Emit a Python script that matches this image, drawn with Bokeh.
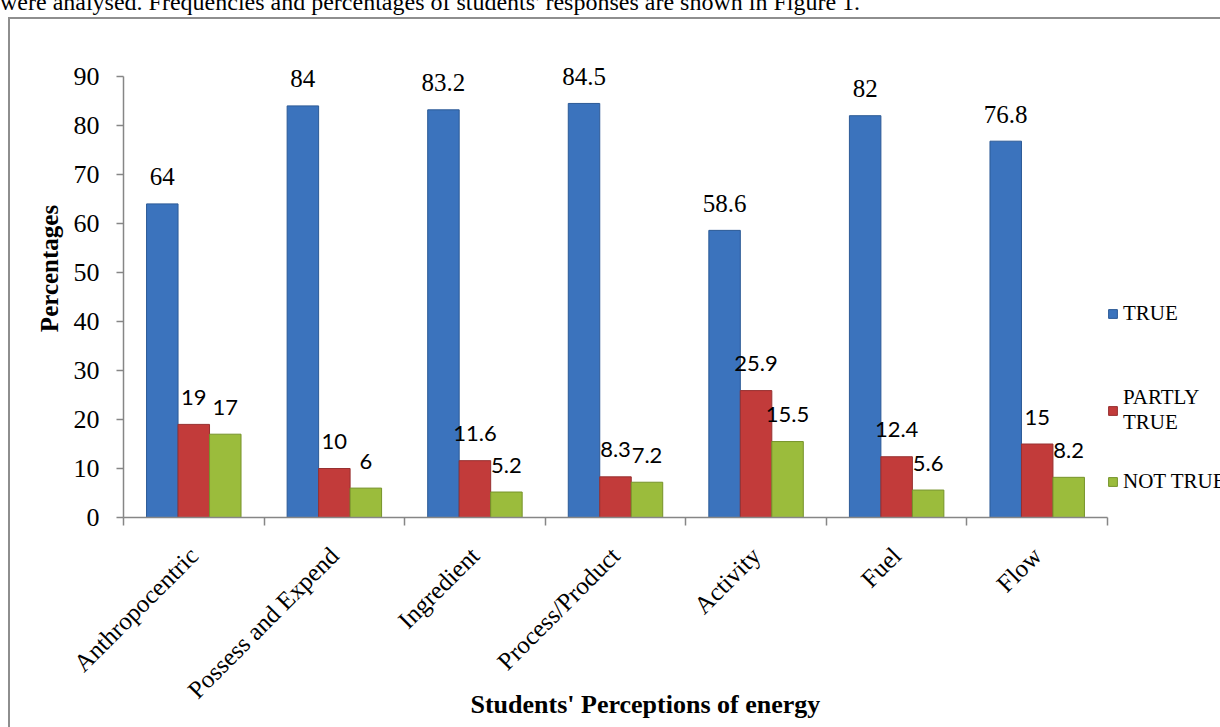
import math
from bokeh.plotting import figure
from bokeh.models import (FixedTicker, Legend, LegendItem, Title, ColumnDataSource,
                          Range1d, Div, Spacer)
from bokeh.layouts import column, row
from bokeh.core.properties import value
from bokeh.embed import file_html
from bokeh.resources import INLINE

categories = ["Anthropocentric", "Possess and Expend", "Ingredient", "Process/Product",
              "Activity", "Fuel", "Flow"]
true_vals = [64, 84, 83.2, 84.5, 58.6, 82, 76.8]
partly_vals = [19, 10, 11.6, 8.3, 25.9, 12.4, 15]
not_vals = [17, 6, 5.2, 7.2, 15.5, 5.6, 8.2]
series_names = ["TRUE", "PARTLY\nTRUE", "NOT TRUE"]
y_ticks = [0, 10, 20, 30, 40, 50, 60, 70, 80, 90]
y_max = 90
top_text = "were analysed. Frequencies and percentages of students' responses are shown in Figure 1."

SERIF = "Liberation Serif"
SANS = "Lato"
GRAY = "#868686"
BORDER = "#8e8e8e"

# geometry (pixels)
W, H = 1210, 708
left_b, bottom_b = 113, 210
frame_w, frame_h = W - left_b, H - bottom_b
px_per_cat = 984 / len(categories)
px_per_unit = 441 / y_max

p = figure(frame_width=frame_w, frame_height=frame_h, output_backend="svg",
           toolbar_location=None,
           x_range=Range1d(0, frame_w / px_per_cat), y_range=Range1d(0, frame_h / px_per_unit),
           min_border_left=left_b, min_border_right=0, min_border_top=0,
           min_border_bottom=bottom_b, margin=0)
p.xgrid.visible = False
p.ygrid.visible = False
p.outline_line_color = None
p.background_fill_color = "white"
p.border_fill_color = "white"

bw = 0.224
centers = [i + 0.5 for i in range(len(categories))]
colors = ["#3B73BD", "#C23B3A", "#9BBC3C"]
edges = ["#2C5A96", "#973030", "#76932A"]
label_fonts = [SERIF, SANS, SANS]
label_sizes = ["25px", "22px", "22px"]
renderers = []
for k, vals in enumerate([true_vals, partly_vals, not_vals]):
    xs = [c + (k - 1) * bw for c in centers]
    src = ColumnDataSource(dict(x=xs, top=vals, lab=[f"{v:g}" for v in vals]))
    r = p.vbar(x="x", top="top", width=bw, bottom=0, source=src,
               fill_color=colors[k], line_color=edges[k], line_width=1)
    renderers.append(r)
    p.text(x="x", y="top", text="lab", source=src, text_align="center",
           text_baseline="middle", y_offset=-27, text_font=value(label_fonts[k]),
           text_font_size=label_sizes[k], text_color="black")

# y axis
ya = p.yaxis[0]
ya.bounds = (0, y_max)
ya.ticker = FixedTicker(ticks=y_ticks)
ya.axis_line_color = GRAY
ya.axis_line_width = 1.5
ya.major_tick_line_color = GRAY
ya.major_tick_line_width = 1.5
ya.major_tick_out = 7
ya.major_tick_in = 0
ya.minor_tick_line_color = None
ya.major_label_standoff = 17
ya.major_label_text_font = SERIF
ya.major_label_text_font_size = "26px"
ya.major_label_text_color = "black"
ya.axis_label = "Percentages"
ya.axis_label_text_font = SERIF
ya.axis_label_text_font_size = "25px"
ya.axis_label_text_font_style = "bold"
ya.axis_label_text_color = "black"
ya.axis_label_standoff = 8

# x axis
xa = p.xaxis[0]
xa.bounds = (0, len(categories))
xa.ticker = FixedTicker(ticks=centers, minor_ticks=list(range(len(categories) + 1)))
xa.major_label_overrides = {c: name for c, name in zip(centers, categories)}
xa.axis_line_color = GRAY
xa.axis_line_width = 1.5
xa.major_tick_out = 0
xa.major_tick_in = 0
xa.major_tick_line_color = None
xa.minor_tick_out = 8
xa.minor_tick_in = 0
xa.minor_tick_line_color = GRAY
xa.minor_tick_line_width = 1.5
xa.major_label_orientation = math.pi / 4
xa.major_label_standoff = 26
xa.major_label_text_font = SERIF
xa.major_label_text_font_size = "25px"
xa.major_label_text_color = "black"

# x title
p.add_layout(Title(text="Students' Perceptions of energy", align="left", offset=347,
                   vertical_align="top", standoff=-52, text_font=SERIF,
                   text_font_size="26px", text_font_style="bold", text_color="black"), "below")

# legends (inside the extended frame)
leg_pos = [(984, 191), (984, 82), (984, 23)]
for k in range(3):
    lg = Legend(items=[LegendItem(label=series_names[k], renderers=[renderers[k]])],
                location=leg_pos[k], glyph_width=11, glyph_height=11, label_standoff=5,
                padding=0, margin=0, border_line_color=None, background_fill_alpha=0,
                label_text_font=SERIF, label_text_font_size="21px", label_text_color="black",
                label_height=20, spacing=0)
    p.add_layout(lg)

# page: cut-off text line, chart box border, figure
top_div = Div(text=top_text, width=1220, height=17, margin=0,
              styles={"font-family": SERIF, "font-size": "24px", "line-height": "4px",
                      "white-space": "nowrap", "color": "black", "overflow": "visible"})
hline = Spacer(width=1212, height=2, margin=0, styles={"background-color": BORDER})
vline = Spacer(width=2, height=H, margin=0, styles={"background-color": BORDER})
lead = Spacer(width=8, height=H + 2, margin=0)
layout = column(top_div, row(lead, column(hline, row(vline, p, spacing=0), spacing=0), spacing=0),
                spacing=0, margin=0)

open("out.html", "w").write(file_html(layout, INLINE))
